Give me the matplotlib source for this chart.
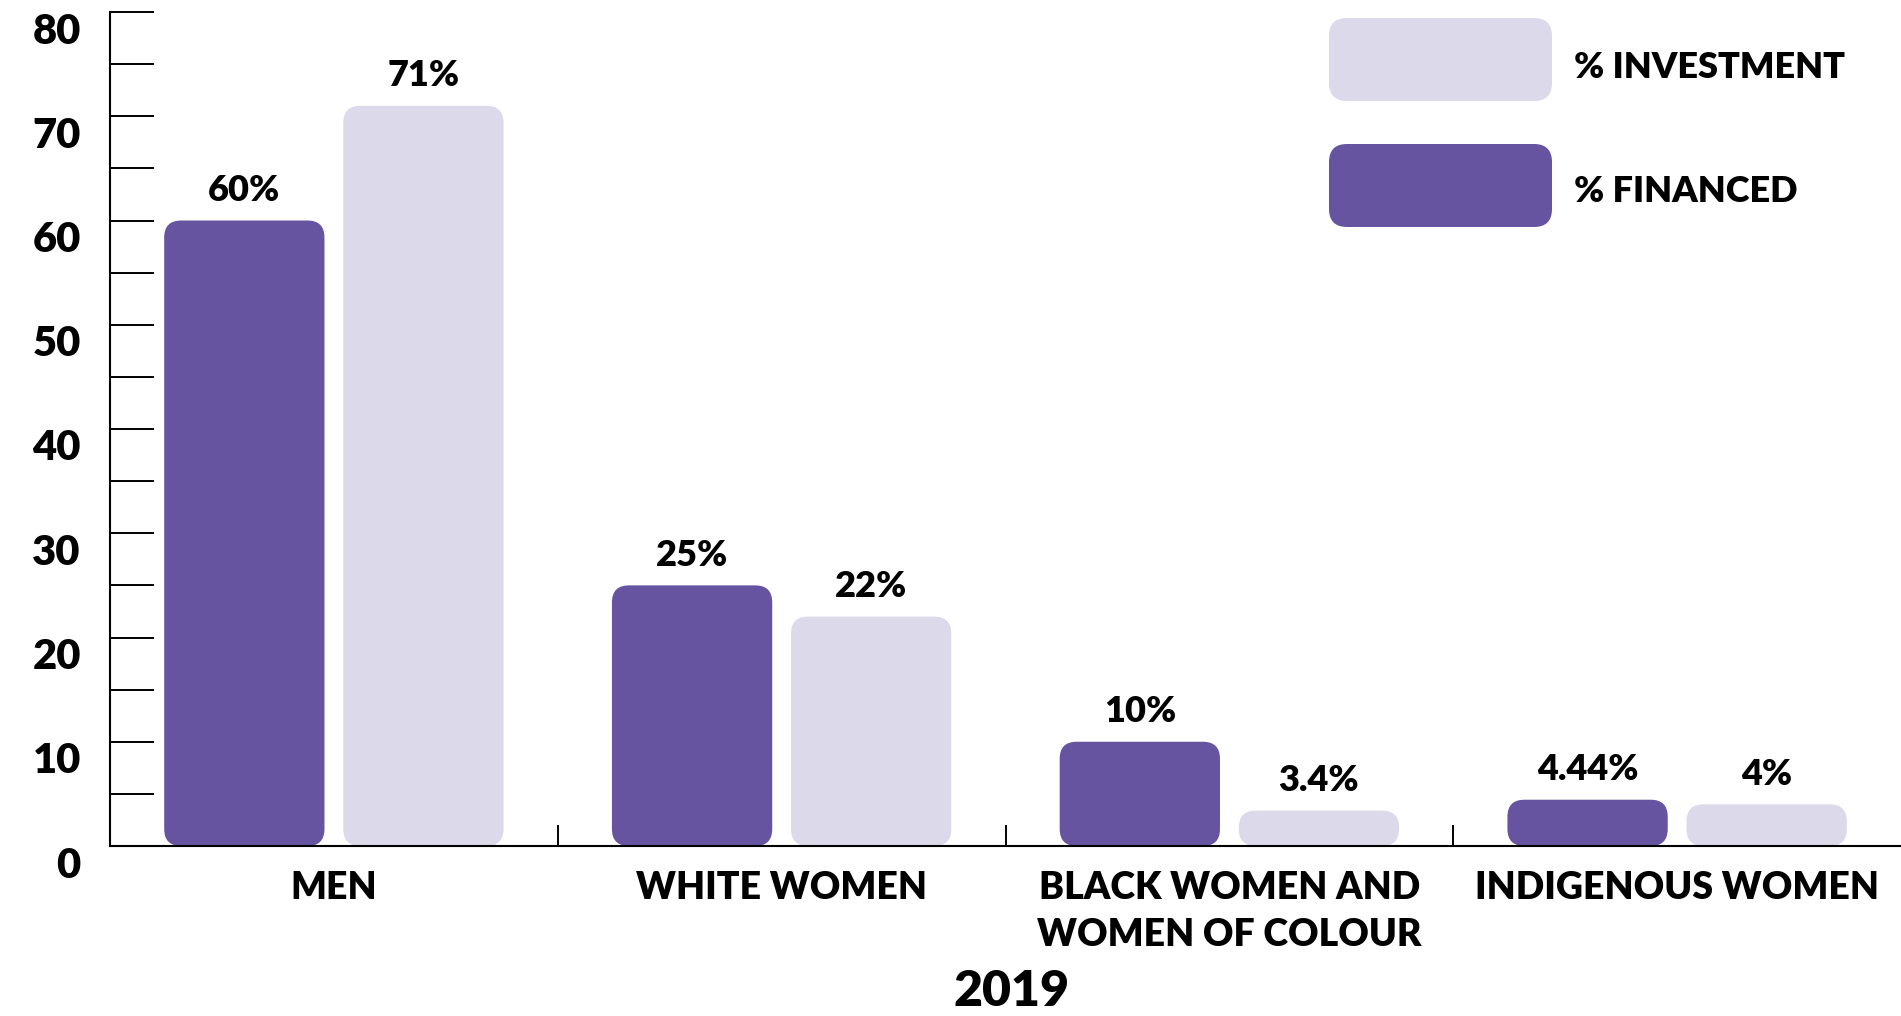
import numpy as np
import matplotlib.pyplot as plt
from matplotlib.patches import FancyBboxPatch
from matplotlib.transforms import ScaledTranslation

# data
categories = ['MEN', 'WHITE WOMEN', 'BLACK WOMEN AND\nWOMEN OF COLOUR', 'INDIGENOUS WOMEN']
financed = [60, 25, 10, 4.44]
investment = [71, 22, 3.4, 4]
financed_labels = ['60%', '25%', '10%', '4.44%']
investment_labels = ['71%', '22%', '3.4%', '4%']
series_names = ['% INVESTMENT', '% FINANCED']
year = '2019'

purple = '#6654a0'
lilac = '#dcd9ea'
WT = 'heavy'

plt.rcParams['font.family'] = ['Lato', 'DejaVu Sans']
plt.rcParams['font.weight'] = WT

W, H = 1901, 1016
fig = plt.figure(figsize=(W / 100, H / 100), dpi=100)
ax = fig.add_axes([110 / W, 1 - 846 / H, 1 - 110 / W, (846 - 12) / H])
ax.set_xlim(0, len(categories))
ax.set_ylim(0, 80)

# pixel scale of the axes, used to keep the corner rounding circular
px_x = (W - 110) / len(categories)
px_y = (846 - 12) / 80
aspect = px_x / px_y
radius = 17 / px_x

centers = np.arange(len(categories)) + 0.5
bw = 0.358
off = 0.2


def rounded_bars(xs, vals, color):
    bars = ax.bar(xs, vals, width=bw, color=color)
    for b in bars:
        b.set_visible(False)
        p = FancyBboxPatch((b.get_x(), b.get_y()), b.get_width(), b.get_height(),
                           boxstyle=f'round,pad=0,rounding_size={radius}',
                           mutation_aspect=aspect, fc=color, ec='none', zorder=2)
        ax.add_patch(p)
    return bars


rounded_bars(centers - off, financed, purple)
rounded_bars(centers + off, investment, lilac)

for x, v, t in zip(centers - off, financed, financed_labels):
    ax.annotate(t, (x, v), xytext=(0, 14), textcoords='offset points',
                ha='center', va='baseline', fontsize=26, fontweight=WT)
for x, v, t in zip(centers + off, investment, investment_labels):
    ax.annotate(t, (x, v), xytext=(0, 14), textcoords='offset points',
                ha='center', va='baseline', fontsize=26, fontweight=WT)

# axes styling
for s in ['top', 'right']:
    ax.spines[s].set_visible(False)
for s in ['left', 'bottom']:
    ax.spines[s].set_linewidth(1.5)
    ax.spines[s].set_zorder(3)

ax.set_yticks(np.arange(0, 81, 10))
ax.set_yticks(np.arange(5, 80, 10), minor=True)
ax.tick_params(axis='y', which='both', direction='in', length=31.5, width=1.4,
               pad=21, labelsize=30)
for lab in ax.get_yticklabels():
    lab.set_transform(lab.get_transform() + ScaledTranslation(0, -0.16, fig.dpi_scale_trans))
    lab.set_fontweight(WT)

ax.set_xticks(centers)
ax.set_xticklabels(categories, fontsize=27, fontweight=WT, linespacing=1.45)
ax.set_xticks(np.arange(1, len(categories)), minor=True)
ax.tick_params(axis='x', which='major', length=0, pad=18)
ax.tick_params(axis='x', which='minor', direction='in', length=15, width=1.4)

fig.text(1012 / W, 1 - 991 / H, year, ha='center', va='center',
         fontsize=36, fontweight=WT)

# legend drawn in pixel space
lg = fig.add_axes([0, 0, 1, 1], zorder=5)
lg.set_xlim(0, W)
lg.set_ylim(H, 0)
lg.axis('off')
for (y0, y1, ty), color, name in zip([(18, 101, 67), (144, 227, 192)], [lilac, purple], series_names):
    lg.add_patch(FancyBboxPatch((1329, y0), 1552 - 1329, y1 - y0,
                                boxstyle='round,pad=0,rounding_size=18',
                                fc=color, ec='none'))
    lg.text(1574, ty, name, ha='left', va='center', fontsize=26, fontweight=WT)

fig.savefig('out.png', dpi=100)
